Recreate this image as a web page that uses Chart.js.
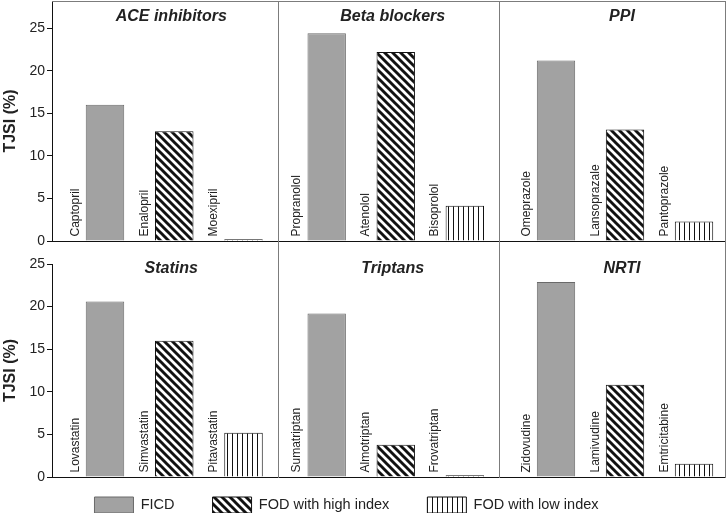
<!DOCTYPE html>
<html><head><meta charset="utf-8">
<script src="https://cdn.jsdelivr.net/npm/chart.js@4.4.1/dist/chart.umd.min.js"></script>
<style>
html,body{margin:0;padding:0;background:#fff;overflow:hidden;}
#wrap{position:relative;width:728px;height:513px;overflow:hidden;background:#fff;}
canvas{position:absolute;}
</style></head><body>
<div id="wrap"></div>
<script>
// ---------- data ----------
const seriesNames = ['FICD', 'FOD with high index', 'FOD with low index'];
const panelTitles = ['ACE inhibitors', 'Beta blockers', 'PPI', 'Statins', 'Triptans', 'NRTI'];
const aceNames = ['Captopril', 'Enalopril', 'Moexipril'];
const aceValues = [16.0, 12.9, 0.2];
const betaNames = ['Propranolol', 'Atenolol', 'Bisoprolol'];
const betaValues = [24.4, 22.2, 4.15];
const ppiNames = ['Omeprazole', 'Lansoprazale', 'Pantoprazole'];
const ppiValues = [21.2, 13.1, 2.3];
const statinNames = ['Lovastatin', 'Simvastatin', 'Pitavastatin'];
const statinValues = [20.6, 16.0, 5.2];
const triptanNames = ['Sumatriptan', 'Almotriptan', 'Frovatriptan'];
const triptanValues = [19.2, 3.8, 0.2];
const nrtiNames = ['Zidovudine', 'Lamivudine', 'Emtricitabine'];
const nrtiValues = [22.9, 10.85, 1.55];
const yTicks = [0, 5, 10, 15, 20, 25];
const yTitle = 'TJSI (%)';

// ---------- styling / layout ----------
const FONT = '"Liberation Sans", Arial, Helvetica, sans-serif';
Chart.defaults.font.family = FONT;
const GRAY_LINE = '#7c7c7c';
const AXIS = '#111';

function hatch() {
  const s = 8, c = document.createElement('canvas'); c.width = s; c.height = s;
  const g = c.getContext('2d');
  g.fillStyle = '#fff'; g.fillRect(0, 0, s, s);
  g.strokeStyle = '#111'; g.lineWidth = 2.9;
  g.beginPath();
  g.moveTo(-2, -2); g.lineTo(s + 2, s + 2);
  g.moveTo(-2, s - 2); g.lineTo(2, s + 2);
  g.moveTo(s - 2, -2); g.lineTo(s + 2, 2);
  g.stroke();
  return g.createPattern(c, 'repeat');
}
function vstripes() {
  const w = 5, h = 4, c = document.createElement('canvas'); c.width = w; c.height = h;
  const g = c.getContext('2d');
  g.fillStyle = '#fff'; g.fillRect(0, 0, w, h);
  g.fillStyle = '#111'; g.fillRect(2, 0, 1, h);
  return g.createPattern(c, 'repeat');
}
const fills = ['#a2a2a2', hatch(), vstripes()];
const borders = ['#6a6a6a', '#111', '#111'];

// bottomExtra: room below the x axis for the "0" tick label
const panels = [
  {names: aceNames, values: aceValues, title: panelTitles[0], left: 0, top: 0, w: 279, h: 252, padTop: 1, bottomExtra: 11, leftAxis: true, topLine: true, rightLine: false, xMin: -0.765, xMax: 2.498, yMax: 28.2, titleY: 17},
  {names: betaNames, values: betaValues, title: panelTitles[1], left: 276, top: 0, w: 224, h: 243, padTop: 1, bottomExtra: 2, leftAxis: false, topLine: true, rightLine: false, xMin: -0.705, xMax: 2.495, yMax: 28.2, titleY: 17},
  {names: ppiNames, values: ppiValues, title: panelTitles[2], left: 497, top: 0, w: 231, h: 243, padTop: 1, bottomExtra: 2, leftAxis: false, topLine: true, rightLine: true, xMin: -0.826, xMax: 2.449, yMax: 28.2, titleY: 17},
  {names: statinNames, values: statinValues, title: panelTitles[3], left: 0, top: 241, w: 279, h: 247, padTop: 23, bottomExtra: 11, leftAxis: true, topLine: false, rightLine: false, xMin: -0.765, xMax: 2.498, yMax: 25, titleY: 28},
  {names: triptanNames, values: triptanValues, title: panelTitles[4], left: 276, top: 241, w: 224, h: 238, padTop: 0, bottomExtra: 2, leftAxis: false, topLine: false, rightLine: false, xMin: -0.705, xMax: 2.495, yMax: 27.73, titleY: 28},
  {names: nrtiNames, values: nrtiValues, title: panelTitles[5], left: 497, top: 241, w: 231, h: 238, padTop: 0, bottomExtra: 2, leftAxis: false, topLine: false, rightLine: true, xMin: -0.826, xMax: 2.449, yMax: 27.73, titleY: 28}
];

const panelText = {
  id: 'panelText',
  afterDatasetsDraw(chart, args, opts) {
    const ctx = chart.ctx, area = chart.chartArea, meta = chart.getDatasetMeta(0);
    ctx.save();
    ctx.fillStyle = '#222';
    ctx.font = '12px ' + FONT;
    meta.data.forEach((bar, i) => {
      const p = bar.getProps(['x', 'width'], true);
      ctx.save();
      ctx.translate(p.x - p.width / 2 - 7.2, area.bottom - 4.5);
      ctx.rotate(-Math.PI / 2);
      ctx.textAlign = 'left'; ctx.textBaseline = 'alphabetic';
      ctx.fillText(opts.names[i], 0, 0);
      ctx.restore();
    });
    ctx.font = 'italic bold 16px ' + FONT;
    ctx.textAlign = 'center'; ctx.textBaseline = 'middle';
    ctx.fillText(opts.title, chart.scales.x.getPixelForValue(1) - 3, opts.titleY);
    ctx.restore();
  }
};

const wrap = document.getElementById('wrap');
function makeCanvas(l, t, w, h) {
  const c = document.createElement('canvas');
  c.width = w; c.height = h;
  c.style.left = l + 'px'; c.style.top = t + 'px';
  c.style.width = w + 'px'; c.style.height = h + 'px';
  wrap.appendChild(c);
  return c;
}
const noPad = s => { s.paddingTop = 0; s.paddingBottom = 0; s.paddingLeft = 0; s.paddingRight = 0; };

panels.forEach(P => {
  const cv = makeCanvas(P.left, P.top, P.w, P.h);
  const scales = {
    x: {
      type: 'linear', position: 'bottom', min: P.xMin, max: P.xMax, offset: false,
      ticks: {display: false},
      grid: {display: true, offset: false, drawOnChartArea: false, drawTicks: false},
      border: {display: true, color: AXIS, width: 1},
      afterFit: s => { s.height = P.bottomExtra; noPad(s); }
    },
    y: P.leftAxis ? {
      type: 'linear', position: 'left', min: 0, max: P.yMax,
      afterBuildTicks: s => { s.ticks = yTicks.map(v => ({value: v})); },
      ticks: {color: '#222', font: {size: 14}, padding: 2},
      grid: {display: true, drawOnChartArea: false, drawTicks: true, tickLength: 5, color: AXIS},
      border: {display: true, color: AXIS, width: 1},
      title: {display: true, text: yTitle, color: '#222', font: {size: 16, weight: 'bold'}, padding: {top: 1, bottom: 0}},
      afterFit: s => { s.width = 52; noPad(s); }
    } : {
      type: 'linear', position: 'left', min: 0, max: P.yMax,
      ticks: {display: false},
      grid: {display: true, drawOnChartArea: false, drawTicks: false},
      border: {display: true, color: GRAY_LINE, width: 1},
      afterFit: s => { s.width = 2; noPad(s); }
    }
  };
  if (P.topLine) {
    scales.xT = {
      type: 'linear', position: 'top', offset: false, ticks: {display: false},
      grid: {display: true, drawOnChartArea: false, drawTicks: false},
      border: {display: true, color: GRAY_LINE, width: 1},
      afterFit: s => { s.height = 0; noPad(s); }
    };
  }
  if (P.rightLine) {
    scales.yR = {
      type: 'linear', position: 'right', ticks: {display: false},
      grid: {display: true, drawOnChartArea: false, drawTicks: false},
      border: {display: true, color: GRAY_LINE, width: 1},
      afterFit: s => { s.width = 2; noPad(s); }
    };
  }
  new Chart(cv, {
    type: 'bar',
    data: {
      datasets: [{
        data: P.values.map((v, i) => ({x: i, y: v})),
        xAxisID: 'x', yAxisID: 'y',
        backgroundColor: fills, borderColor: borders, borderWidth: 1,
        barPercentage: 0.556, categoryPercentage: 1
      }]
    },
    options: {
      responsive: false, animation: false, events: [],
      layout: {padding: {top: P.padTop, right: 1, left: 0, bottom: 0}},
      plugins: {legend: {display: false}, tooltip: {enabled: false},
        panelText: {names: P.names, title: P.title, titleY: P.titleY}},
      scales
    },
    plugins: [panelText]
  });
});

// legend (canvas taller than the page so the legend box is not height-limited; the page clips it)
const lc = makeCanvas(0, 459, 693, 130);
new Chart(lc, {
  type: 'bar',
  data: {
    labels: [],
    datasets: seriesNames.map((n, i) => ({label: n, data: [], backgroundColor: fills[i], borderColor: borders[i], borderWidth: 1}))
  },
  options: {
    responsive: false, animation: false, events: [],
    scales: {x: {display: false}, y: {display: false}},
    plugins: {
      tooltip: {enabled: false},
      legend: {display: true, position: 'top',
        labels: {boxWidth: 39, boxHeight: 16, padding: 38, color: '#222', font: {size: 14.5}}}
    }
  }
});
</script>
</body></html>
